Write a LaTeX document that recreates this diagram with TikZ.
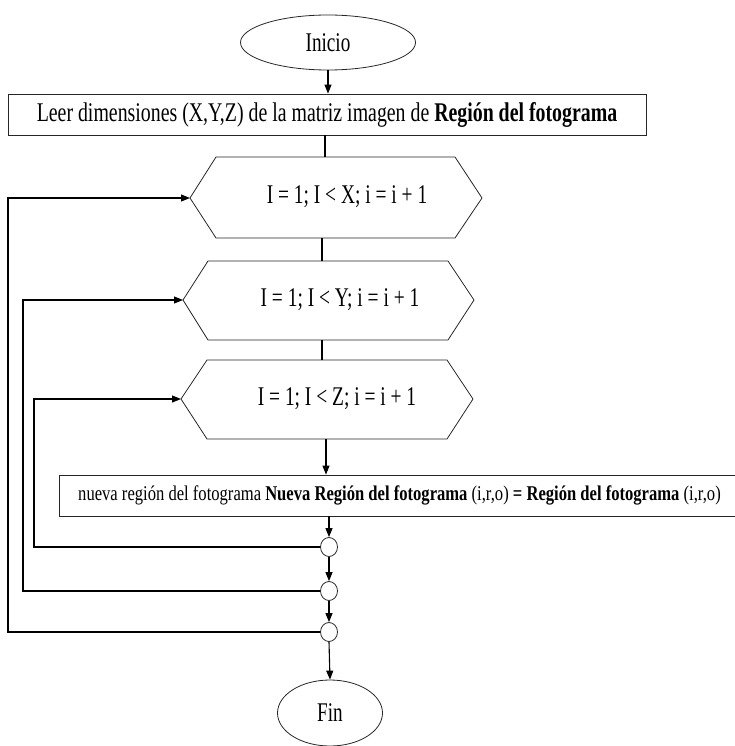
\documentclass[tikz,border=0pt]{standalone}
\usepackage{fontspec}
\setmainfont{Liberation Serif}
\usepackage{graphicx}
\usetikzlibrary{arrows.meta,shapes.geometric}
\newcommand{\sqz}[2]{\scalebox{#1}[1]{#2}}
\tikzset{
  shapeline/.style={draw=black!85, line width=0.8pt},
  flow/.style={draw=black, line width=1.1pt},
  arr/.style={flow, -{Triangle[length=9pt,width=7pt]}},
  oval/.style={shapeline, ellipse, inner sep=0pt},
  box/.style={shapeline, rectangle, inner sep=0pt},
  joint/.style={shapeline, ellipse, inner sep=0pt, minimum width=17pt, minimum height=19pt},
  txt/.style={inner sep=0pt, font=\fontsize{27}{30}\selectfont},
}
\begin{document}
\begin{tikzpicture}[x=1pt,y=-1pt]
\useasboundingbox (0,0) rectangle (735,746);
% start / end
\node[oval, minimum width=175pt, minimum height=55pt, font=\fontsize{27}{30}\selectfont] (inicio) at (328,42.5) {\sqz{0.71}{Inicio}};
\node[box, minimum width=638pt, minimum height=41pt, font=\fontsize{27}{30}\selectfont] (leer) at (327,114.5) {\sqz{0.735}{Leer dimensiones (X,Y,Z) de la matriz imagen de \textbf{Región del fotograma}}};
% hexagons
\draw[shapeline] (190,198) coordinate (h1l) -- (216,157) -- (455,157) -- (482,198) -- (455,238) -- (216,238) -- cycle;
\node[txt] (h1) at (347,197) {\sqz{0.72}{I = 1; I < X; i = i + 1}};
\draw[shapeline] (183,300) coordinate (h2l) -- (208,261) -- (448,261) -- (474,300) -- (448,340) -- (208,340) -- cycle;
\node[txt] (h2) at (340,300) {\sqz{0.72}{I = 1; I < Y; i = i + 1}};
\draw[shapeline] (181,399) coordinate (h3l) -- (207,360) -- (447,360) -- (473,399) -- (447,439) -- (207,439) -- cycle;
\node[txt] (h3) at (337,399) {\sqz{0.72}{I = 1; I < Z; i = i + 1}};
\coordinate (h1t) at (325,157); \coordinate (h1b) at (322,238);
\coordinate (h2t) at (322,261); \coordinate (h2b) at (322,340);
\coordinate (h3t) at (322,360); \coordinate (h3b) at (326,439);
% assignment box
\node[box, minimum width=681pt, minimum height=41pt, font=\fontsize{21}{24}\selectfont] (asig) at (399.5,495.5) {\sqz{0.79}{nueva región del fotograma \textbf{Nueva Región del fotograma} (i,r,o) \textbf{= Región del fotograma} (i,r,o)}};
% joints
\node[joint] (c1) at (329,547) {};
\node[joint] (c2) at (329,591) {};
\node[joint] (c3) at (329,632) {};
\node[oval, minimum width=105pt, minimum height=66pt, font=\fontsize{27}{30}\selectfont] (fin) at (330,713) {\sqz{0.71}{Fin}};
% main flow
\draw[arr] (inicio.south) -- (inicio.south |- leer.north);
\draw[flow] (h1t |- leer.south) -- (h1t);
\draw[flow] (h1b) -- (h2t);
\draw[flow] (h2b) -- (h3t);
\draw[arr] (h3b) -- (h3b |- asig.north);
\draw[arr] (c1 |- asig.south) -- (c1.north);
\draw[arr] (c1.south) -- (c2.north);
\draw[arr] (c2.south) -- (c3.north);
\draw[arr] (c3.south) -- (fin.north);
% loop returns
\draw[arr] (c1.west) -- (34,547) -- (34,399) -- (h3l);
\draw[arr] (c2.west) -- (23,591) -- (23,300) -- (h2l);
\draw[arr] (c3.west) -- (8,632) -- (8,198) -- (h1l);
\end{tikzpicture}
\end{document}
